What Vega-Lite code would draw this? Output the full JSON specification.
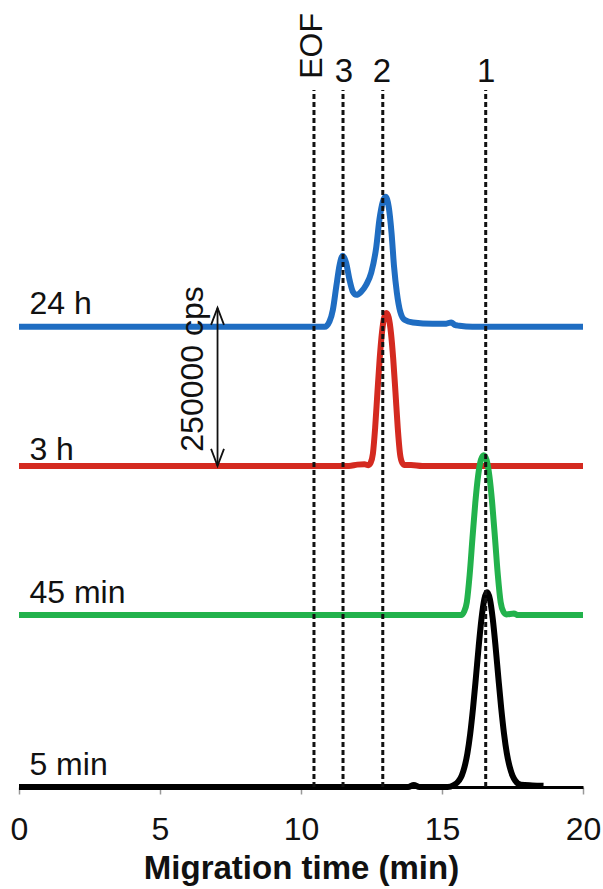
{
  "$schema": "https://vega.github.io/schema/vega-lite/v6.json",
  "width": 564,
  "height": 787,
  "autosize": {"type": "none"},
  "padding": {"left": 19, "top": 0, "right": 20, "bottom": 102},
  "background": "white",
  "config": {"view": {"stroke": null}, "font": "Liberation Sans"},
  "datasets": {
    "traces": [
      {"series": "24 h", "t": 0, "v": 728000},
      {"series": "24 h", "t": 10.84, "v": 728000},
      {"series": "24 h", "t": 11.01, "v": 736400},
      {"series": "24 h", "t": 11.13, "v": 754900},
      {"series": "24 h", "t": 11.25, "v": 791300},
      {"series": "24 h", "t": 11.37, "v": 826100},
      {"series": "24 h", "t": 11.48, "v": 840300},
      {"series": "24 h", "t": 11.6, "v": 829200},
      {"series": "24 h", "t": 11.72, "v": 802400},
      {"series": "24 h", "t": 11.84, "v": 783400},
      {"series": "24 h", "t": 11.96, "v": 778600},
      {"series": "24 h", "t": 12.13, "v": 783400},
      {"series": "24 h", "t": 12.31, "v": 794400},
      {"series": "24 h", "t": 12.49, "v": 813400},
      {"series": "24 h", "t": 12.67, "v": 854600},
      {"series": "24 h", "t": 12.78, "v": 897300},
      {"series": "24 h", "t": 12.9, "v": 925800},
      {"series": "24 h", "t": 13.0, "v": 933700},
      {"series": "24 h", "t": 13.11, "v": 917800},
      {"series": "24 h", "t": 13.21, "v": 876700},
      {"series": "24 h", "t": 13.3, "v": 822900},
      {"series": "24 h", "t": 13.4, "v": 781800},
      {"series": "24 h", "t": 13.52, "v": 751700},
      {"series": "24 h", "t": 13.67, "v": 739100},
      {"series": "24 h", "t": 13.97, "v": 734800},
      {"series": "24 h", "t": 14.67, "v": 732700},
      {"series": "24 h", "t": 15.15, "v": 733000},
      {"series": "24 h", "t": 15.33, "v": 735000},
      {"series": "24 h", "t": 15.45, "v": 731000},
      {"series": "24 h", "t": 15.62, "v": 729600},
      {"series": "24 h", "t": 16.08, "v": 728000},
      {"series": "24 h", "t": 20, "v": 728000},

      {"series": "3 h", "t": 0, "v": 508000},
      {"series": "3 h", "t": 11.7, "v": 508000},
      {"series": "3 h", "t": 12.0, "v": 510000},
      {"series": "3 h", "t": 12.25, "v": 510500},
      {"series": "3 h", "t": 12.39, "v": 509000},
      {"series": "3 h", "t": 12.47, "v": 512800},
      {"series": "3 h", "t": 12.55, "v": 527400},
      {"series": "3 h", "t": 12.63, "v": 568500},
      {"series": "3 h", "t": 12.71, "v": 624200},
      {"series": "3 h", "t": 12.79, "v": 677400},
      {"series": "3 h", "t": 12.87, "v": 718500},
      {"series": "3 h", "t": 12.95, "v": 742700},
      {"series": "3 h", "t": 13.03, "v": 750000},
      {"series": "3 h", "t": 13.11, "v": 742700},
      {"series": "3 h", "t": 13.19, "v": 718500},
      {"series": "3 h", "t": 13.27, "v": 677400},
      {"series": "3 h", "t": 13.35, "v": 624200},
      {"series": "3 h", "t": 13.43, "v": 568500},
      {"series": "3 h", "t": 13.51, "v": 527400},
      {"series": "3 h", "t": 13.59, "v": 512800},
      {"series": "3 h", "t": 13.67, "v": 509500},
      {"series": "3 h", "t": 13.9, "v": 509500},
      {"series": "3 h", "t": 14.3, "v": 508000},
      {"series": "3 h", "t": 20, "v": 508000},

      {"series": "45 min", "t": 0, "v": 272000},
      {"series": "45 min", "t": 15.68, "v": 272000},
      {"series": "45 min", "t": 15.78, "v": 277000},
      {"series": "45 min", "t": 15.88, "v": 292200},
      {"series": "45 min", "t": 15.98, "v": 335200},
      {"series": "45 min", "t": 16.08, "v": 393400},
      {"series": "45 min", "t": 16.18, "v": 449100},
      {"series": "45 min", "t": 16.28, "v": 492100},
      {"series": "45 min", "t": 16.38, "v": 517400},
      {"series": "45 min", "t": 16.48, "v": 525000},
      {"series": "45 min", "t": 16.58, "v": 517400},
      {"series": "45 min", "t": 16.68, "v": 492100},
      {"series": "45 min", "t": 16.78, "v": 449100},
      {"series": "45 min", "t": 16.88, "v": 393400},
      {"series": "45 min", "t": 16.98, "v": 335200},
      {"series": "45 min", "t": 17.08, "v": 292200},
      {"series": "45 min", "t": 17.18, "v": 277000},
      {"series": "45 min", "t": 17.28, "v": 273000},
      {"series": "45 min", "t": 17.55, "v": 274500},
      {"series": "45 min", "t": 17.7, "v": 272000},
      {"series": "45 min", "t": 20, "v": 272000},

      {"series": "5 min", "t": 0, "v": 0},
      {"series": "5 min", "t": 13.8, "v": 0},
      {"series": "5 min", "t": 14.0, "v": 3000},
      {"series": "5 min", "t": 14.2, "v": 0},
      {"series": "5 min", "t": 15.2, "v": 0},
      {"series": "5 min", "t": 15.4, "v": 2500},
      {"series": "5 min", "t": 15.6, "v": 10000},
      {"series": "5 min", "t": 15.7, "v": 18000},
      {"series": "5 min", "t": 15.8, "v": 32000},
      {"series": "5 min", "t": 15.9, "v": 53000},
      {"series": "5 min", "t": 16.0, "v": 84000},
      {"series": "5 min", "t": 16.1, "v": 124500},
      {"series": "5 min", "t": 16.2, "v": 172000},
      {"series": "5 min", "t": 16.3, "v": 222000},
      {"series": "5 min", "t": 16.4, "v": 266100},
      {"series": "5 min", "t": 16.5, "v": 296900},
      {"series": "5 min", "t": 16.6, "v": 308000},
      {"series": "5 min", "t": 16.7, "v": 296900},
      {"series": "5 min", "t": 16.8, "v": 266100},
      {"series": "5 min", "t": 16.9, "v": 222000},
      {"series": "5 min", "t": 17.0, "v": 172000},
      {"series": "5 min", "t": 17.1, "v": 124500},
      {"series": "5 min", "t": 17.2, "v": 84000},
      {"series": "5 min", "t": 17.3, "v": 53000},
      {"series": "5 min", "t": 17.4, "v": 32000},
      {"series": "5 min", "t": 17.5, "v": 18000},
      {"series": "5 min", "t": 17.6, "v": 10000},
      {"series": "5 min", "t": 17.8, "v": 3500},
      {"series": "5 min", "t": 18.2, "v": 2500},
      {"series": "5 min", "t": 18.6, "v": 2000}
    ]
  },
  "encoding": {
    "x": {
      "field": "t",
      "type": "quantitative",
      "scale": {"domain": [0, 20], "nice": false, "zero": false},
      "axis": {
        "values": [0, 5, 10, 15, 20],
        "grid": false,
        "labelFontSize": 32,
        "labelFont": "Liberation Sans",
        "labelColor": "#111111",
        "labelPadding": 20,
        "labelFlush": false,
        "labelOverlap": false,
        "tickColor": "#999999",
        "tickSize": 7,
        "tickWidth": 1.5,
        "domainColor": "#000000",
        "domainWidth": 3,
        "title": "Migration time (min)",
        "titleFont": "Liberation Sans",
        "titleFontSize": 33,
        "titleFontWeight": "bold",
        "titleColor": "#111111",
        "titlePadding": 7
      }
    },
    "y": {
      "field": "v",
      "type": "quantitative",
      "scale": {"domain": [0, 1245000], "nice": false, "zero": false},
      "axis": null
    }
  },
  "layer": [
    {
      "data": {"name": "traces"},
      "mark": {"type": "line", "strokeWidth": 6, "strokeJoin": "round", "strokeCap": "butt", "interpolate": "monotone"},
      "encoding": {
        "color": {
          "field": "series",
          "type": "nominal",
          "scale": {"domain": ["24 h", "3 h", "45 min", "5 min"], "range": ["#1f6dc2", "#d42a20", "#22b24c", "#000000"]},
          "legend": null
        }
      }
    },
    {
      "data": {"values": [
        {"t": 0.37, "v": 748300, "label": "24 h"},
        {"t": 0.37, "v": 517300, "label": "3 h"},
        {"t": 0.37, "v": 291100, "label": "45 min"},
        {"t": 0.37, "v": 19000, "label": "5 min"}
      ]},
      "mark": {"type": "text", "align": "left", "baseline": "alphabetic", "fontSize": 32, "font": "Liberation Sans", "color": "#111111"},
      "encoding": {"text": {"field": "label"}}
    },
    {
      "data": {"values": [
        {"t": 10.46, "v": 0, "v2": 1102600},
        {"t": 11.49, "v": 0, "v2": 1102600},
        {"t": 12.9, "v": 0, "v2": 1102600},
        {"t": 16.55, "v": 0, "v2": 1102600}
      ]},
      "mark": {"type": "rule", "strokeDash": [5, 3], "strokeWidth": 3, "color": "#111111"},
      "encoding": {"y2": {"field": "v2"}}
    },
    {
      "data": {"values": [
        {"t": 11.52, "v": 1115300, "label": "3"},
        {"t": 12.87, "v": 1115300, "label": "2"},
        {"t": 16.57, "v": 1115300, "label": "1"}
      ]},
      "mark": {"type": "text", "align": "center", "baseline": "alphabetic", "fontSize": 33, "font": "Liberation Sans", "color": "#111111"},
      "encoding": {"text": {"field": "label"}}
    },
    {
      "data": {"values": [
        {"t": 10.73, "v": 1172300, "label": "EOF"},
        {"t": 6.51, "v": 661300, "label": "250000 cps"}
      ]},
      "mark": {"type": "text", "align": "center", "baseline": "alphabetic", "angle": 270, "fontSize": 32, "font": "Liberation Sans", "color": "#111111"},
      "encoding": {"text": {"field": "label"}}
    },
    {
      "data": {"values": [{"t": 7.04, "v": 508000, "v2": 758000}]},
      "mark": {"type": "rule", "strokeWidth": 1.8, "color": "#111111"},
      "encoding": {"y2": {"field": "v2"}}
    },
    {
      "data": {"values": [{"t": 7.04, "v": 758000}]},
      "mark": {"type": "point", "shape": "M-0.38,1L0,0L0.38,1", "size": 1156, "filled": false, "strokeWidth": 1.8, "color": "#111111", "opacity": 1},
      "encoding": {}
    },
    {
      "data": {"values": [{"t": 7.04, "v": 508000}]},
      "mark": {"type": "point", "shape": "M-0.38,-1L0,0L0.38,-1", "size": 1156, "filled": false, "strokeWidth": 1.8, "color": "#111111", "opacity": 1},
      "encoding": {}
    }
  ]
}
